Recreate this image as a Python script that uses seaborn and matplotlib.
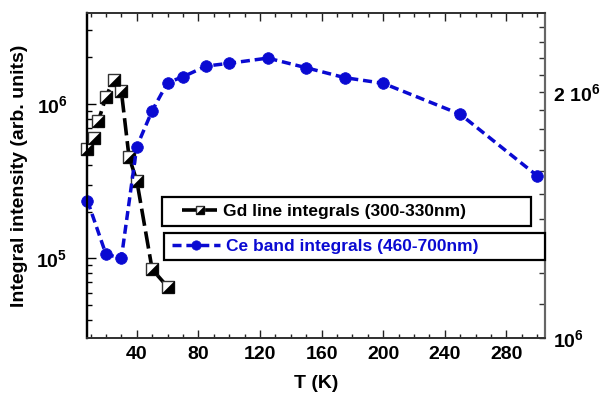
import matplotlib
matplotlib.use("Agg")
import matplotlib.pyplot as plt
import seaborn as sns
import pandas as pd
from matplotlib.path import Path
from matplotlib.ticker import FixedLocator, FixedFormatter, NullFormatter, MultipleLocator, LogLocator
from matplotlib.legend_handler import HandlerTuple, HandlerLine2D

# ---- data ----
gd_T = [8, 12, 15, 20, 25, 30, 35, 40, 50, 60]
gd_I = [5.12e5, 6.03e5, 7.72e5, 1.11e6, 1.44e6, 1.21e6, 4.52e5, 3.19e5, 8.49e4, 6.54e4]
ce_T = [8, 20, 30, 40, 50, 60, 70, 85, 100, 125, 150, 175, 200, 250, 300]
ce_I = [1.472e6, 1.266e6, 1.252e6, 1.714e6, 1.897e6, 2.053e6, 2.087e6, 2.151e6,
        2.168e6, 2.200e6, 2.141e6, 2.082e6, 2.049e6, 1.878e6, 1.579e6]
x_ticks = [40, 80, 120, 160, 200, 240, 280]
left_ticks = [1e5, 1e6]
left_labels = [r"$10^{5}$", r"$10^{6}$"]
right_ticks = [1e6, 2e6]
right_labels = [r"$10^{6}$", r"$2\ 10^{6}$"]
right_minor = [1.1e6, 1.2e6, 1.3e6, 1.4e6, 1.5e6, 1.6e6, 1.7e6, 1.8e6, 1.9e6,
               2.1e6, 2.2e6, 2.3e6, 2.4e6]
gd_label = "Gd line integrals (300-330nm)"
ce_label = "Ce band integrals (460-700nm)"
x_label = "T (K)"
y_label = "Integral intensity (arb. units)"

gd = pd.DataFrame({"T": gd_T, "I": gd_I})
ce = pd.DataFrame({"T": ce_T, "I": ce_I})

sns.set_style("ticks")
plt.rcParams["font.family"] = ["Liberation Sans", "DejaVu Sans"]
plt.rcParams["font.weight"] = "bold"
plt.rcParams["text.color"] = "black"
plt.rcParams["axes.labelcolor"] = "black"
plt.rcParams["xtick.color"] = "black"
plt.rcParams["ytick.color"] = "black"
plt.rcParams["mathtext.fontset"] = "custom"
plt.rcParams["mathtext.rm"] = "Liberation Sans:bold"
plt.rcParams["mathtext.it"] = "Liberation Sans:bold"
plt.rcParams["mathtext.bf"] = "Liberation Sans:bold"
plt.rcParams["mathtext.default"] = "bf"

BLUE = "#0a0ad2"

fig = plt.figure(figsize=(6.0, 3.97), dpi=100)
L, R, T, B = 87, 545, 12.7, 338
ax = fig.add_axes([L / 600, 1 - B / 397, (R - L) / 600, (B - T) / 397])
ax2 = ax.twinx()

# Gd series: white squares with black lower-right triangle
tri = Path([(1, 1), (1, -1), (-1, -1), (1, 1)],
           [Path.MOVETO, Path.LINETO, Path.LINETO, Path.CLOSEPOLY])
sns.lineplot(data=gd, x="T", y="I", ax=ax, color="black", lw=2.6,
             linestyle=(0, (4.8, 1.6)), marker="s", markersize=8.2,
             markerfacecolor="white", markeredgecolor="#333333",
             markeredgewidth=1.0, label=gd_label, legend=False, zorder=3,
             clip_on=False)
gd_line = ax.get_lines()[-1]
sns.lineplot(data=gd, x="T", y="I", ax=ax, color="black", lw=0,
             marker=tri, markersize=8.2, markerfacecolor="black",
             markeredgecolor="black", markeredgewidth=0.4, legend=False, zorder=4,
             clip_on=False)
gd_tri = ax.get_lines()[-1]
gd_tri.set_linestyle("none")

# Ce series on right axis
sns.lineplot(data=ce, x="T", y="I", ax=ax2, color=BLUE, lw=2.5,
             linestyle=(0, (2.6, 1.4)), marker="o", markersize=8.4,
             markerfacecolor=BLUE, markeredgecolor=BLUE, markeredgewidth=0.5,
             label=ce_label, legend=False, clip_on=False)
ce_line = ax2.get_lines()[-1]

# axes scales / limits
ax.set_xlim(7.7, 305)
ax.set_yscale("log")
ax.set_ylim(3.05e4, 3.9e6)
ax2.set_yscale("log")
ax2.set_ylim(1e6, 2.5e6)

ax.xaxis.set_major_locator(FixedLocator(x_ticks))
ax.xaxis.set_minor_locator(MultipleLocator(10))
ax.yaxis.set_major_locator(FixedLocator(left_ticks))
ax.yaxis.set_major_formatter(FixedFormatter(left_labels))
ax.yaxis.set_minor_locator(LogLocator(base=10, subs=range(2, 10)))
ax.yaxis.set_minor_formatter(NullFormatter())
ax2.yaxis.set_major_locator(FixedLocator(right_ticks))
ax2.yaxis.set_major_formatter(FixedFormatter(right_labels))
ax2.yaxis.set_minor_locator(FixedLocator(right_minor))
ax2.yaxis.set_minor_formatter(NullFormatter())

ax.tick_params(axis="x", which="both", direction="in", top=True, bottom=True,
               labelsize=14, pad=6, colors="#222222", labelcolor="black")
ax.tick_params(axis="x", which="major", length=5.5, width=1.0)
ax.tick_params(axis="x", which="minor", length=3.0, width=1.0)
ax.tick_params(axis="y", which="both", direction="in", left=True, right=False,
               labelsize=14, pad=14, colors="black")
ax.tick_params(axis="y", which="major", length=6.5, width=1.0)
ax.tick_params(axis="y", which="minor", length=3.6, width=1.0)
ax2.tick_params(axis="y", which="both", direction="in", right=True, left=False,
                labelsize=14, pad=5.5, colors="#333333", labelcolor="black")
ax2.tick_params(axis="y", which="major", length=4.5, width=1.0)
ax2.tick_params(axis="y", which="minor", length=4.0, width=1.0)

for a in (ax, ax2):
    a.spines["left"].set_color("black")
    a.spines["left"].set_linewidth(1.6)
    a.spines["bottom"].set_color("#333333")
    a.spines["bottom"].set_linewidth(1.3)
    a.spines["top"].set_color("#333333")
    a.spines["top"].set_linewidth(1.3)
    a.spines["right"].set_color("#666666")
    a.spines["right"].set_linewidth(1.5)

ax.set_xlabel(x_label, fontsize=14, fontweight="bold", color="black")
ax.set_ylabel(y_label, fontsize=14, fontweight="bold", color="black")
ax2.set_ylabel("")
ax.xaxis.set_label_coords(0.5, -0.113)
ax.yaxis.set_label_coords(-0.128, 0.5)

# legends: two separate framed boxes
W = R - L
H = B - T
fs = 12.5
leg1 = ax2.legend(handles=[(gd_line, gd_tri)], labels=[gd_label],
                  handler_map={tuple: HandlerTuple(ndivide=1, xpad=0.8)},
                  loc="upper left", mode="expand",
                  bbox_to_anchor=((162 - L) / W, 0.0, (531 - 162) / W, (B - 197.3) / H),
                  borderaxespad=0, borderpad=0.38, handlelength=2.8, handletextpad=0.35,
                  markerscale=0.75, frameon=True, fancybox=False, framealpha=1,
                  edgecolor="black", prop={"size": fs, "weight": "bold"},
                  labelcolor="black")
leg1.get_frame().set_linewidth(1.6)
ax2.add_artist(leg1)
leg2 = ax2.legend(handles=[ce_line], labels=[ce_label],
                  handler_map={type(ce_line): HandlerLine2D(xpad=0.1)},
                  loc="upper left", mode="expand",
                  bbox_to_anchor=((164 - L) / W, 0.0, (R - 164) / W, (B - 232.7) / H),
                  borderaxespad=0, borderpad=0.34, handlelength=2.9, handletextpad=0.35,
                  markerscale=0.8, frameon=True, fancybox=False, framealpha=1,
                  edgecolor="black", prop={"size": fs, "weight": "bold"},
                  labelcolor=BLUE)
leg2.get_frame().set_linewidth(1.6)

fig.savefig("out.png", dpi=100)
